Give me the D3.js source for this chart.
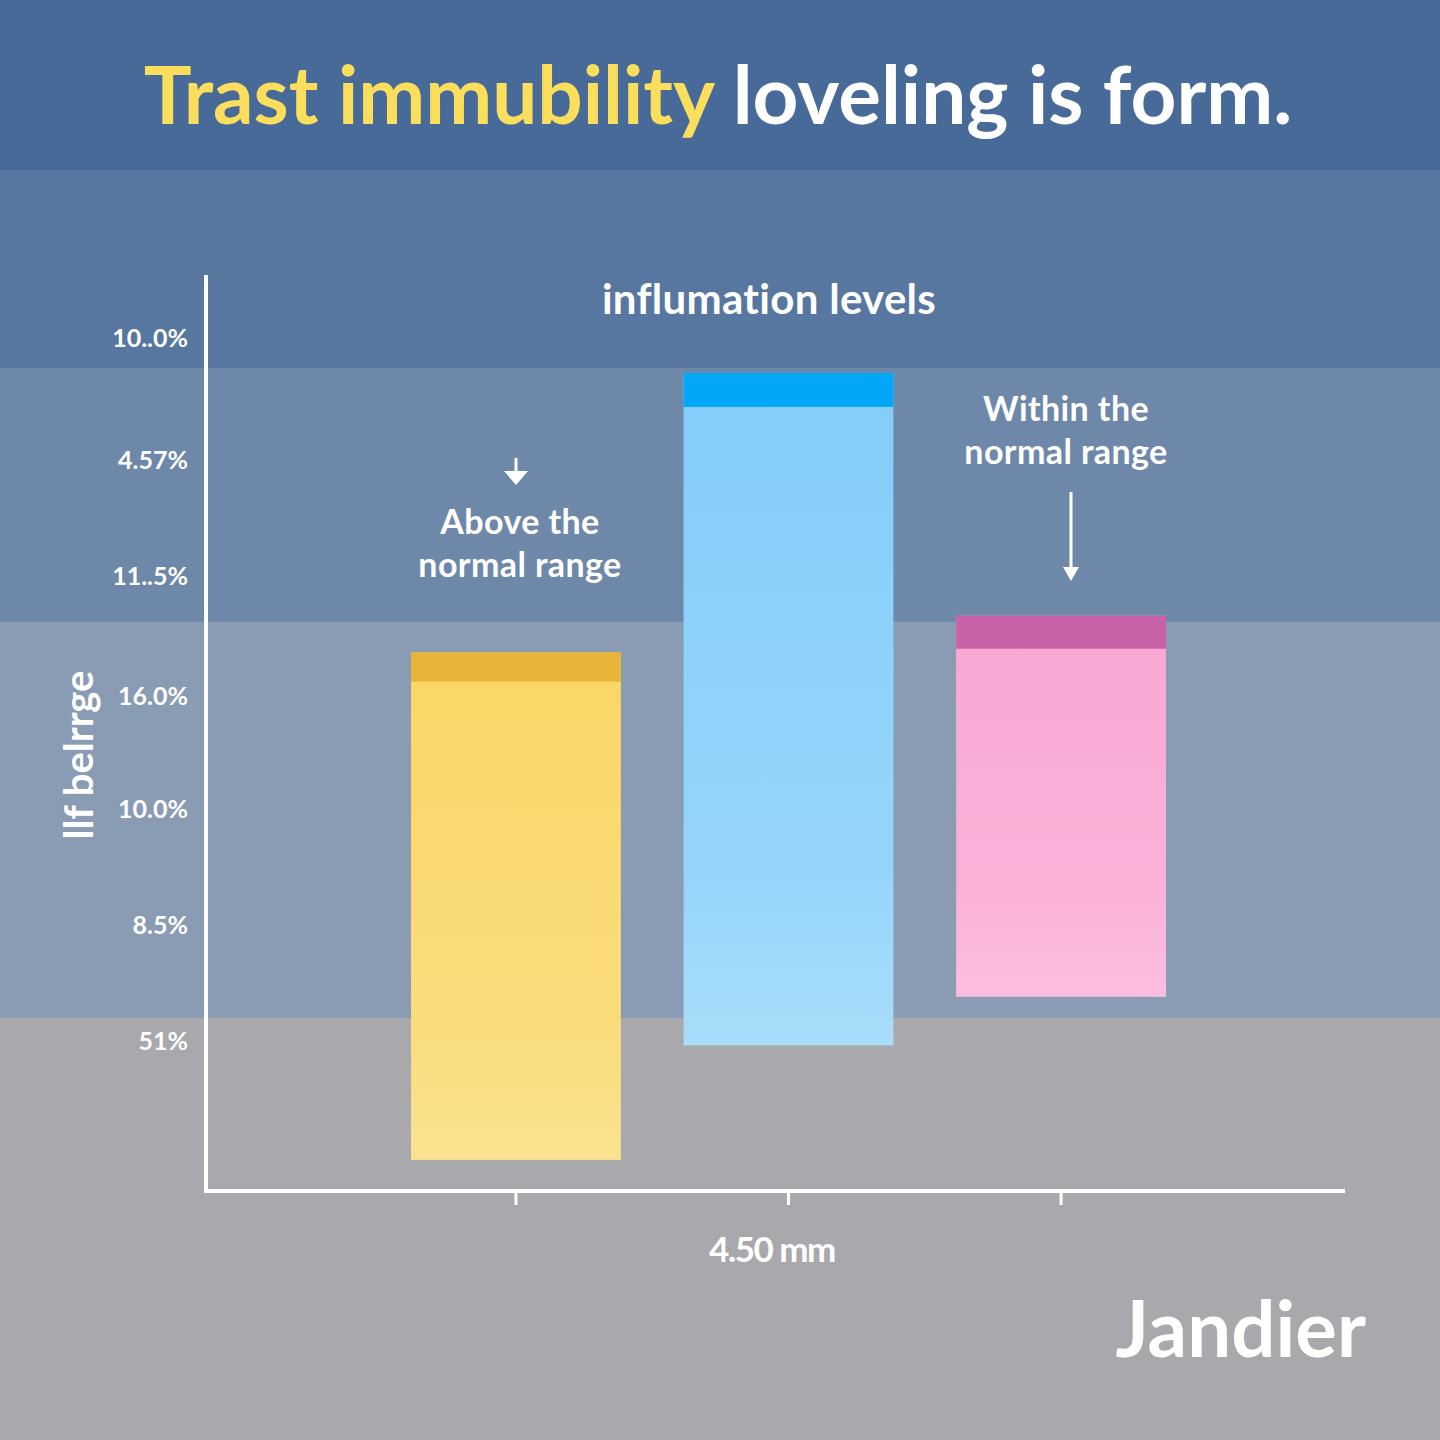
<!DOCTYPE html>
<html>
<head>
<meta charset="utf-8">
<script src="https://cdn.jsdelivr.net/npm/d3@7"></script>
<style>
  html, body { margin: 0; padding: 0; background: #a9a9ad; }
  svg { display: block; }
  text { font-family: Lato, "Open Sans", sans-serif; fill: #fff; }
</style>
</head>
<body>
<script>
const W = 1440, H = 1440;

// data
const categories = ['above', 'peak', 'within'];
const barLow = [3.4, 15.9, 21.2];
const barHigh = [58.8, 89.3, 62.8];
const capSize = [3.2, 3.7, 3.6];
const capColors = ['#e8b43a', '#03a7f7', '#c862a8'];
const bodyTop = ['#fad666', '#82cdf9', '#f9a6d2'];
const bodyBottom = ['#fae291', '#a9ddfa', '#fbbee0'];

const tickValues = [93.1, 79.7, 67.1, 54.0, 41.7, 29.0, 16.3];
const tickLabels = ['10..0%', '4.57%', '11..5%', '16.0%', '10.0%', '8.5%', '51%'];

const bandTops = [0, 170, 368, 622, 1018];
const bandColors = ['#476a98', '#5777a1', '#6e88aa', '#8a9bb4', '#a9a9ad'];

const marginTop = 275, marginBottom = 249, marginLeft = 206, marginRight = 95;

const x = d3.scaleBand().domain(categories).range([411, 1166]).paddingInner(0.23).paddingOuter(0);
const y = d3.scaleLinear().domain([0, 100]).range([H - marginBottom, marginTop]);

const svg = d3.select('body').append('svg').attr('width', W).attr('height', H);

// background bands
svg.append('g')
    .selectAll('rect')
    .data(bandTops)
    .join('rect')
    .attr('x', 0)
    .attr('y', d => d)
    .attr('width', W)
    .attr('height', (d, i) => (i < bandTops.length - 1 ? bandTops[i + 1] : H) - d)
    .attr('fill', (d, i) => bandColors[i]);

// title
const title = svg.append('text')
    .attr('x', 718)
    .attr('y', 124)
    .attr('text-anchor', 'middle')
    .style('font-size', '80px')
    .style('font-weight', 700);
title.append('tspan').style('fill', '#fbdf5c').text('Trast immubility ');
title.append('tspan').style('fill', '#fff').text('loveling is form.');

svg.append('text')
    .attr('x', 769)
    .attr('y', 314)
    .attr('text-anchor', 'middle')
    .style('font-size', '42px')
    .style('font-weight', 700)
    .style('letter-spacing', '0.3px')
    .text('influmation levels');

// gradients
const defs = svg.append('defs');
categories.forEach((c, i) => {
    const g = defs.append('linearGradient')
        .attr('id', 'grad-' + c)
        .attr('x1', 0).attr('y1', 0).attr('x2', 0).attr('y2', 1);
    g.append('stop').attr('offset', '0%').attr('stop-color', bodyTop[i]);
    g.append('stop').attr('offset', '75%').attr('stop-color', d3.interpolateRgb(bodyTop[i], bodyBottom[i])(0.5));
    g.append('stop').attr('offset', '100%').attr('stop-color', bodyBottom[i]);
});

// bars
const bars = svg.append('g')
    .selectAll('g')
    .data(categories)
    .join('g');

bars.append('rect')
    .attr('x', d => x(d))
    .attr('y', (d, i) => y(barHigh[i]))
    .attr('width', x.bandwidth())
    .attr('height', (d, i) => y(barLow[i]) - y(barHigh[i]))
    .attr('fill', d => `url(#grad-${d})`);

bars.append('rect')
    .attr('x', d => x(d))
    .attr('y', (d, i) => y(barHigh[i]))
    .attr('width', x.bandwidth())
    .attr('height', (d, i) => y(barHigh[i] - capSize[i]) - y(barHigh[i]))
    .attr('fill', (d, i) => capColors[i]);

// y axis
const yAxis = svg.append('g')
    .attr('transform', `translate(${marginLeft}, 0)`)
    .call(d3.axisLeft(y).tickValues(tickValues).tickSize(0).tickPadding(18)
        .tickFormat((d, i) => tickLabels[i]));
yAxis.select('.domain').remove();
yAxis.selectAll('text')
    .style('font-family', 'Lato, sans-serif')
    .style('font-size', '25px')
    .style('font-weight', 700)
    .attr('fill', '#fff');

svg.append('line')
    .attr('x1', marginLeft).attr('x2', marginLeft)
    .attr('y1', marginTop).attr('y2', H - marginBottom + 2)
    .attr('stroke', '#fff')
    .attr('stroke-width', 4);

// x axis
const xAxis = svg.append('g')
    .attr('transform', `translate(0, ${H - marginBottom})`)
    .call(d3.axisBottom(x).tickSize(14).tickFormat(''));
xAxis.select('.domain').remove();
xAxis.selectAll('.tick line').attr('stroke', '#fff').attr('stroke-width', 3);

svg.append('line')
    .attr('x1', marginLeft - 2).attr('x2', W - marginRight)
    .attr('y1', H - marginBottom).attr('y2', H - marginBottom)
    .attr('stroke', '#fff')
    .attr('stroke-width', 4);

svg.append('text')
    .attr('x', 772)
    .attr('y', 1262)
    .attr('text-anchor', 'middle')
    .style('font-size', '35px')
    .style('font-weight', 700)
    .style('letter-spacing', '-1.5px')
    .text('4.50 mm');

// y title
svg.append('text')
    .attr('transform', 'translate(93, 755) rotate(-90)')
    .attr('text-anchor', 'middle')
    .style('font-size', '40px')
    .style('font-weight', 700)
    .text('llf belrrge');

// annotations
const note = (cx, y0, lines) => {
    const t = svg.append('text')
        .attr('text-anchor', 'middle')
        .style('font-size', '34px')
        .style('font-weight', 700)
        .style('letter-spacing', '0.4px');
    lines.forEach((l, i) => t.append('tspan').attr('x', cx).attr('y', y0 + i * 43).text(l));
};
note(520, 534, ['Above the', 'normal range']);
note(1066, 421, ['Within the', 'normal range']);

const arrow = (ax, y1, y2, head, hw) => {
    svg.append('line')
        .attr('x1', ax).attr('x2', ax)
        .attr('y1', y1).attr('y2', y2 - head + 2)
        .attr('stroke', '#fff').attr('stroke-width', 3);
    svg.append('path')
        .attr('d', `M${ax - hw},${y2 - head} L${ax + hw},${y2 - head} L${ax},${y2} Z`)
        .attr('fill', '#fff');
};
arrow(516, 458, 485, 14, 12);
arrow(1071, 492, 581, 14, 8);

// brand
svg.append('text')
    .attr('x', 1366)
    .attr('y', 1357)
    .attr('text-anchor', 'end')
    .style('font-size', '78px')
    .style('font-weight', 700)
    .text('Jandier');
</script>
</body>
</html>
